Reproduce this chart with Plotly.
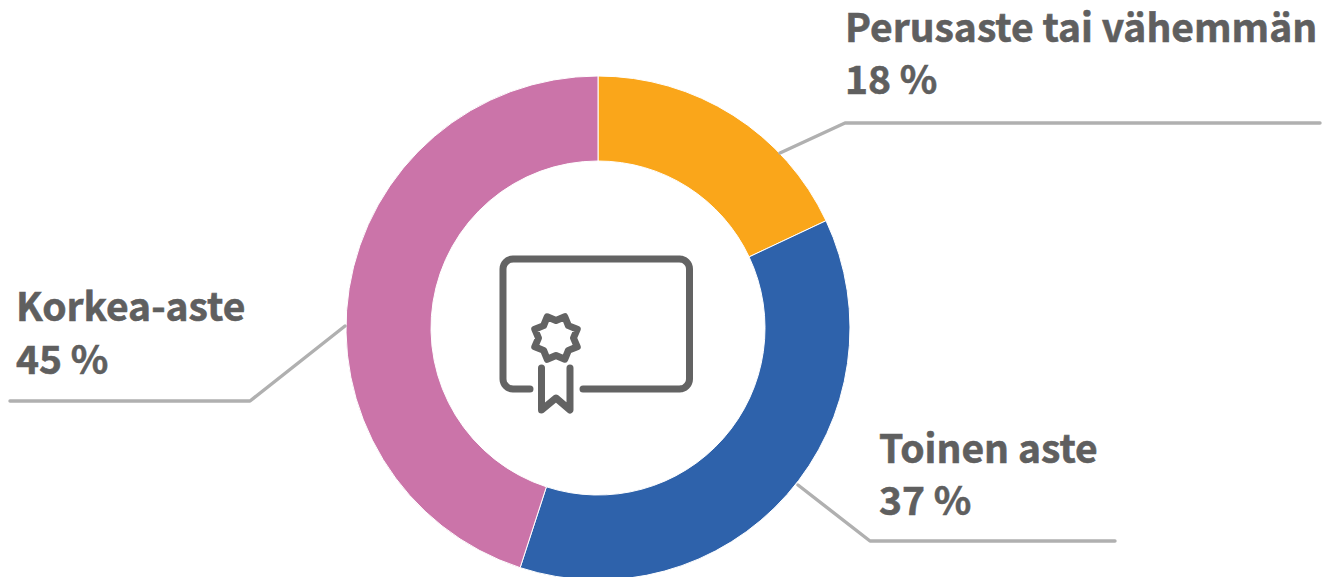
import math
import plotly.graph_objects as go

categories = ["Perusaste tai vähemmän", "Toinen aste", "Korkea-aste"]
values = [18, 37, 45]
colors = ["#FAA61A", "#2E62AB", "#CB74A9"]

W, H = 1322, 580
TEXT = "#5F5F5F"
LEADER = "#B0B0B0"
ICON = "#636363"

def px(x):
    return x / W

def py(y):
    return 1 - y / H

def path(points, close=False):
    d = "M" + " L".join(f"{px(x):.5f},{py(y):.5f}" for x, y in points)
    return d + (" Z" if close else "")

fig = go.Figure(go.Pie(
    labels=categories, values=values, sort=False, direction="clockwise", rotation=0,
    hole=167 / 252, textinfo="none", hoverinfo="label+percent",
    marker=dict(colors=colors, line=dict(color="#FFFFFF", width=1)),
    domain=dict(x=[px(598 - 252), px(598 + 252)], y=[py(580), py(76)]),
    showlegend=False,
))

shapes = []
def stroke(d, color, width):
    shapes.append(dict(type="path", path=d, xref="paper", yref="paper",
                       line=dict(color=color, width=width)))

# leader lines
stroke(path([(780, 153), (845, 123), (1320, 123)]), LEADER, 3.4)
stroke(path([(798, 485), (870, 541), (1115, 541)]), LEADER, 3.4)
stroke(path([(345, 326), (250, 401), (10, 401)]), LEADER, 3.4)

# certificate icon: frame
def arc(cx, cy, r, a0, a1, n=8):
    return [(cx + r * math.cos(math.radians(a0 + (a1 - a0) * i / n)),
             cy + r * math.sin(math.radians(a0 + (a1 - a0) * i / n))) for i in range(n + 1)]

L, R, T, B, r = 503, 689.5, 259, 389, 10
frame = ([(530, B)] + arc(L + r, B - r, r, 90, 180) + arc(L + r, T + r, r, 180, 270)
         + arc(R - r, T + r, r, 270, 360) + arc(R - r, B - r, r, 0, 90) + [(583, B)])
stroke(path(frame), ICON, 7)

# ribbon
stroke(path([(541.5, 368), (541.5, 410), (556, 398), (570, 410), (570, 368)]), ICON, 7)

# rosette
cx, cy = 556, 338
star = []
for i in range(16):
    a = math.radians(-90 + 22.5 + i * 22.5)
    rad = 23 if i % 2 == 0 else 17.5
    star.append((cx + rad * math.cos(a), cy + rad * math.sin(a)))
stroke(path(star, close=True), ICON, 7)

# left x, then y centres of the two text lines
positions = [(843, 25, 77), (877, 446, 498), (14, 304, 357)]
annotations = []
for cat, val, (x, y1, y2) in zip(categories, values, positions):
    for txt, y in ((cat, y1), (f"{val} %", y2)):
        annotations.append(dict(
            text=txt, x=px(x), y=py(y), xref="paper", yref="paper",
            xanchor="left", yanchor="middle", align="left", showarrow=False,
            font=dict(family="Noto Sans CJK SC", size=39, color=TEXT, weight=700),
        ))

fig.update_layout(
    width=W, height=H, margin=dict(l=0, r=0, t=0, b=0),
    paper_bgcolor="white", plot_bgcolor="white",
    shapes=shapes, annotations=annotations,
)

post = """
document.documentElement.style.overflow='hidden';
document.body.style.overflow='hidden';
document.body.style.margin='0';
document.querySelectorAll('.shapelayer path').forEach(function(p){
  p.style.strokeLinecap='round'; p.style.strokeLinejoin='round';
});
document.querySelectorAll('.annotation-text').forEach(function(t){
  t.style.stroke='#5F5F5F'; t.style.strokeWidth='0.6px';
});
"""
fig.write_html("out.html", post_script=post, config={"displayModeBar": False})
